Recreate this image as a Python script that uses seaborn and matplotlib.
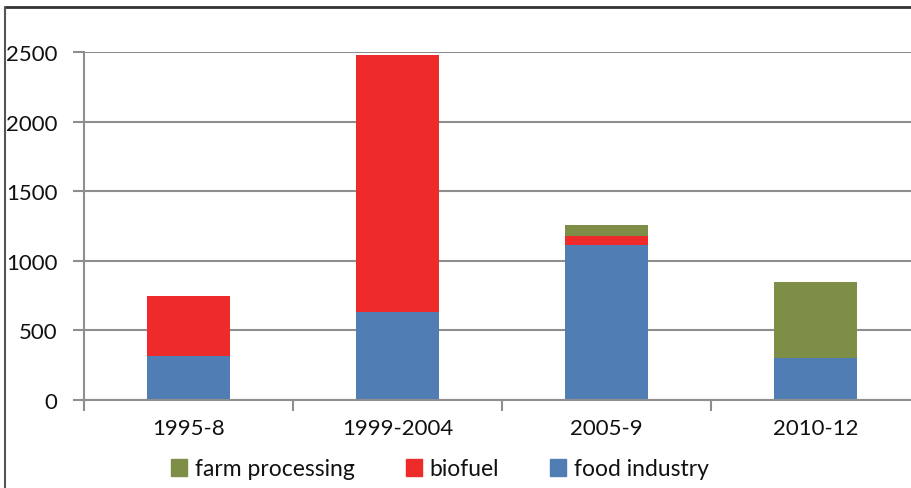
import matplotlib
matplotlib.use("Agg")
from matplotlib import pyplot as plt
from matplotlib.patches import Patch
from matplotlib.lines import Line2D
import pandas as pd
import seaborn as sns

# data
periods = ["1995-8", "1999-2004", "2005-9", "2010-12"]
food_industry = [315, 630, 1110, 300]
biofuel = [435, 1850, 65, 0]
farm_processing = [0, 0, 80, 545]

blue = "#4F7DB4"
red = "#EE2A2A"
green = "#7F8E47"
grid_col = "#8E8E8E"

sns.set_theme(style="white")
plt.rcParams["font.family"] = ["Lato", "DejaVu Sans"]

df = pd.DataFrame({"period": periods, "food": food_industry,
                   "bio": biofuel, "farm": farm_processing})
df["food_bio"] = df["food"] + df["bio"]
df["total"] = df["food_bio"] + df["farm"]

fig = plt.figure(figsize=(9.11, 4.89), dpi=100)
ax = fig.add_axes([84/911, 1-401/489, 836/911, 348/489])

# stacked bars: draw the cumulative totals back to front
sns.barplot(data=df, x="period", y="total", color=green, saturation=1,
            width=0.4, ax=ax, linewidth=0)
sns.barplot(data=df, x="period", y="food_bio", color=red, saturation=1,
            width=0.4, ax=ax, linewidth=0)
sns.barplot(data=df, x="period", y="food", color=blue, saturation=1,
            width=0.4, ax=ax, linewidth=0)

ax.set_ylim(0, 2500)
ax.set_xlim(-0.5, 3.5)
ax.set_yticks([0, 500, 1000, 1500, 2000, 2500])
ax.yaxis.grid(True, color=grid_col, linewidth=1.5)
ax.set_axisbelow(True)
ax.set_xlabel("")
ax.set_ylabel("")

for s in ["top", "right"]:
    ax.spines[s].set_visible(False)
for s in ["left", "bottom"]:
    ax.spines[s].set_color(grid_col)
    ax.spines[s].set_linewidth(1.5)

# category boundary ticks on x axis
ax.set_xticks([-0.5, 0.5, 1.5, 2.5], minor=True)
ax.tick_params(axis="x", which="minor", length=8, width=1.5, color=grid_col,
               direction="out", bottom=True)
ax.tick_params(axis="x", which="major", length=0, pad=13, labelsize=16,
               labelcolor="#111111")
ax.tick_params(axis="y", length=8, width=1.5, color=grid_col, left=True,
               pad=11, labelsize=16, labelcolor="#111111")

handles = [Patch(color=green, label="farm processing"),
           Patch(color=red, label="biofuel"),
           Patch(color=blue, label="food industry")]
fig.legend(handles=handles, loc="center", bbox_to_anchor=(440/911, 1-470/489),
           ncol=3, frameon=False, fontsize=16.5, handlelength=0.7,
           handleheight=0.7, handletextpad=0.35, columnspacing=2.2,
           labelcolor="#111111", borderpad=0, borderaxespad=0)

# outer frame (top and left edges visible in the reference)
fig.add_artist(Line2D([5/911, 1], [1-8/489, 1-8/489], color="#333333",
                      linewidth=2, transform=fig.transFigure))
fig.add_artist(Line2D([5/911, 5/911], [0, 1-8/489], color="#555555",
                      linewidth=1.5, transform=fig.transFigure))

fig.savefig("out.png", dpi=100)
